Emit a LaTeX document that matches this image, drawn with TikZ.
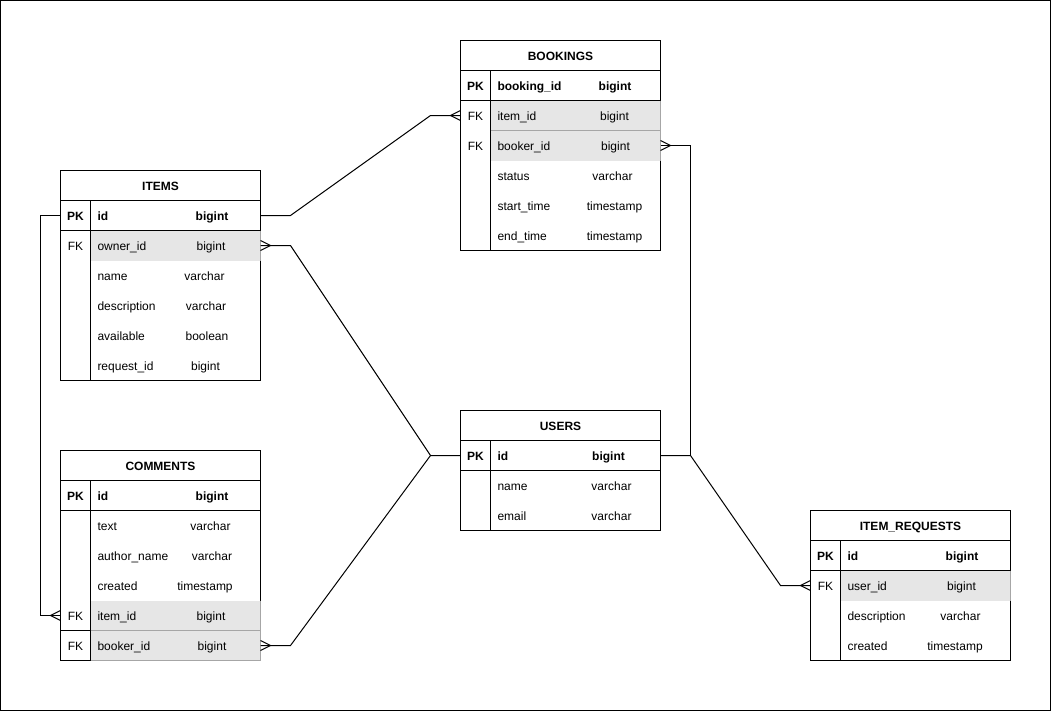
\documentclass[tikz,border=0pt]{standalone}
\usepackage{fontspec}
\setmainfont{Liberation Sans}
\usepackage{tikz}
\definecolor{fkfill}{HTML}{E6E6E6}
\definecolor{fkline}{HTML}{A6A6A6}

\begin{document}
\begin{tikzpicture}[x=0.75pt,y=-0.75pt,line width=0.75pt,
	every node/.style={outer sep=0pt, font=\fontsize{9pt}{11pt}\selectfont, text height=9.5pt, text depth=1.65pt},
	tbltitle/.style={draw, inner sep=0pt, minimum width=150pt, minimum height=22.5pt, font=\fontsize{9pt}{11pt}\selectfont\bfseries},
	keycell/.style={inner sep=0pt, minimum width=22.5pt, minimum height=22.5pt},
	fieldrow/.style={anchor=west, inner xsep=5.25pt, inner ysep=0pt, text width=117pt, align=left, minimum height=22.5pt},
	fkrow/.style={fieldrow, fill=fkfill},
	dtype/.style={inner sep=0pt},
	rel/.style={draw, line width=0.75pt}]
	
	\useasboundingbox (0,0) rectangle (1051,711);
	\draw (0.5,0.5) rectangle (1050.5,710.5);
	
	% ITEMS
	\node[tbltitle] (items) at (160.5,185.5) {ITEMS};
	\node[keycell] (it-pk) at (75.5,215.5) {\textbf{PK}};
	\node[fieldrow] (it-id) at (90.5,215.5) {\textbf{id}};
	\node[dtype] (it-id-t) at (212,215.5) {\textbf{bigint}};
	\node[keycell] (it-fk) at (75.5,245.5) {FK};
	\node[fkrow] (it-own) at (90.5,245.5) {owner\_id};
	\node[dtype] (it-own-t) at (211,245.5) {bigint};
	\node[fieldrow] (it-name) at (90.5,275.5) {name};
	\node[dtype] (it-name-t) at (204.5,275.5) {varchar};
	\node[fieldrow] (it-desc) at (90.5,305.5) {description};
	\node[dtype] (it-desc-t) at (206,305.5) {varchar};
	\node[fieldrow] (it-avail) at (90.5,335.5) {available};
	\node[dtype] (it-avail-t) at (207,335.5) {boolean};
	\node[fieldrow] (it-req) at (90.5,365.5) {request\_id};
	\node[dtype] (it-req-t) at (205.5,365.5) {bigint};
	\draw (60.5,200.5) rectangle (260.5,380.5);
	\draw (60.5,230.5) -- (260.5,230.5);
	\draw (90.5,200.5) -- (90.5,380.5);
	\draw[fkline] (260.5,230.5) -- (260.5,260.5);
	
	% BOOKINGS
	\node[tbltitle] (bookings) at (560.5,55.5) {BOOKINGS};
	\node[keycell] (bk-pk) at (475.5,85.5) {\textbf{PK}};
	\node[fieldrow] (bk-id) at (490.5,85.5) {\textbf{booking\_id}};
	\node[dtype] (bk-id-t) at (615,85.5) {\textbf{bigint}};
	\node[keycell] (bk-fk1) at (475.5,115.5) {FK};
	\node[fkrow] (bk-item) at (490.5,115.5) {item\_id};
	\node[dtype] (bk-item-t) at (614.5,115.5) {bigint};
	\node[keycell] (bk-fk2) at (475.5,145.5) {FK};
	\node[fkrow] (bk-book) at (490.5,145.5) {booker\_id};
	\node[dtype] (bk-book-t) at (615.5,145.5) {bigint};
	\node[fieldrow] (bk-status) at (490.5,175.5) {status};
	\node[dtype] (bk-status-t) at (612.5,175.5) {varchar};
	\node[fieldrow] (bk-start) at (490.5,205.5) {start\_time};
	\node[dtype] (bk-start-t) at (614.5,205.5) {timestamp};
	\node[fieldrow] (bk-end) at (490.5,235.5) {end\_time};
	\node[dtype] (bk-end-t) at (614.5,235.5) {timestamp};
	\draw (460.5,70.5) rectangle (660.5,250.5);
	\draw (460.5,100.5) -- (660.5,100.5);
	\draw (490.5,70.5) -- (490.5,250.5);
	\draw[fkline] (660.5,100.5) -- (660.5,160.5);
	\draw[fkline] (490.5,130.5) -- (660.5,130.5);
	
	% USERS
	\node[tbltitle] (users) at (560.5,425.5) {USERS};
	\node[keycell] (us-pk) at (475.5,455.5) {\textbf{PK}};
	\node[fieldrow] (us-id) at (490.5,455.5) {\textbf{id}};
	\node[dtype] (us-id-t) at (608.5,455.5) {\textbf{bigint}};
	\node[fieldrow] (us-name) at (490.5,485.5) {name};
	\node[dtype] (us-name-t) at (611.5,485.5) {varchar};
	\node[fieldrow] (us-mail) at (490.5,515.5) {email};
	\node[dtype] (us-mail-t) at (611.5,515.5) {varchar};
	\draw (460.5,440.5) rectangle (660.5,530.5);
	\draw (460.5,470.5) -- (660.5,470.5);
	\draw (490.5,440.5) -- (490.5,530.5);
	
	% COMMENTS
	\node[tbltitle] (comments) at (160.5,465.5) {COMMENTS};
	\node[keycell] (cm-pk) at (75.5,495.5) {\textbf{PK}};
	\node[fieldrow] (cm-id) at (90.5,495.5) {\textbf{id}};
	\node[dtype] (cm-id-t) at (212,495.5) {\textbf{bigint}};
	\node[fieldrow] (cm-text) at (90.5,525.5) {text};
	\node[dtype] (cm-text-t) at (210.5,525.5) {varchar};
	\node[fieldrow] (cm-auth) at (90.5,555.5) {author\_name};
	\node[dtype] (cm-auth-t) at (212,555.5) {varchar};
	\node[fieldrow] (cm-crt) at (90.5,585.5) {created};
	\node[dtype] (cm-crt-t) at (205,585.5) {timestamp};
	\node[keycell] (cm-fk1) at (75.5,615.5) {FK};
	\node[fkrow] (cm-item) at (90.5,615.5) {item\_id};
	\node[dtype] (cm-item-t) at (211,615.5) {bigint};
	\node[keycell] (cm-fk2) at (75.5,645.5) {FK};
	\node[fkrow] (cm-book) at (90.5,645.5) {booker\_id};
	\node[dtype] (cm-book-t) at (212,645.5) {bigint};
	\draw (60.5,480.5) rectangle (260.5,660.5);
	\draw (60.5,510.5) -- (260.5,510.5);
	\draw (90.5,480.5) -- (90.5,660.5);
	\draw (60.5,630.5) -- (90.5,630.5);
	\draw[fkline] (90.5,630.5) -- (260.5,630.5);
	\draw[fkline] (260.5,600.5) -- (260.5,660.5) -- (90.5,660.5);
	
	% ITEM_REQUESTS
	\node[tbltitle] (requests) at (910.5,525.5) {ITEM\_REQUESTS};
	\node[keycell] (ir-pk) at (825.5,555.5) {\textbf{PK}};
	\node[fieldrow] (ir-id) at (840.5,555.5) {\textbf{id}};
	\node[dtype] (ir-id-t) at (962,555.5) {\textbf{bigint}};
	\node[keycell] (ir-fk) at (825.5,585.5) {FK};
	\node[fkrow] (ir-user) at (840.5,585.5) {user\_id};
	\node[dtype] (ir-user-t) at (961.5,585.5) {bigint};
	\node[fieldrow] (ir-desc) at (840.5,615.5) {description};
	\node[dtype] (ir-desc-t) at (960.5,615.5) {varchar};
	\node[fieldrow] (ir-crt) at (840.5,645.5) {created};
	\node[dtype] (ir-crt-t) at (955,645.5) {timestamp};
	\draw (810.5,540.5) rectangle (1010.5,660.5);
	\draw (810.5,570.5) -- (1010.5,570.5);
	\draw (840.5,540.5) -- (840.5,660.5);
	\draw[fkline] (1010.5,570.5) -- (1010.5,600.5);
	
	% relations
	\path[rel] (it-id.east) -- ++(30,0) -- ([xshift=-22.5pt]bk-fk1.west) -- (bk-fk1.west);
	\path[rel] (it-own.east) -- ++(30,0) -- ([xshift=-22.5pt]us-pk.west) -- (us-pk.west);
	\path[rel] (cm-book.east) -- ++(30,0) -- ([xshift=-22.5pt]us-pk.west);
	\path[rel] (bk-book.east) -- ++(30,0) |- (us-id.east);
	\path[rel] (us-id.east) -- ++(30,0) -- ([xshift=-22.5pt]ir-fk.west) -- (ir-fk.west);
	\path[rel] (it-pk.west) -- ++(-20,0) |- (cm-fk1.west);
	
	% crow's feet
	\path[rel] ([xshift=-7.5pt]bk-fk1.west) -- ([yshift=3.75pt]bk-fk1.west) ([xshift=-7.5pt]bk-fk1.west) -- ([yshift=-3.75pt]bk-fk1.west);
	\path[rel] ([xshift=7.5pt]bk-book.east) -- ([yshift=3.75pt]bk-book.east) ([xshift=7.5pt]bk-book.east) -- ([yshift=-3.75pt]bk-book.east);
	\path[rel] ([xshift=7.5pt]it-own.east) -- ([yshift=3.75pt]it-own.east) ([xshift=7.5pt]it-own.east) -- ([yshift=-3.75pt]it-own.east);
	\path[rel] ([xshift=7.5pt]cm-book.east) -- ([yshift=3.75pt]cm-book.east) ([xshift=7.5pt]cm-book.east) -- ([yshift=-3.75pt]cm-book.east);
	\path[rel] ([xshift=-7.5pt]cm-fk1.west) -- ([yshift=3.75pt]cm-fk1.west) ([xshift=-7.5pt]cm-fk1.west) -- ([yshift=-3.75pt]cm-fk1.west);
	\path[rel] ([xshift=-7.5pt]ir-fk.west) -- ([yshift=3.75pt]ir-fk.west) ([xshift=-7.5pt]ir-fk.west) -- ([yshift=-3.75pt]ir-fk.west);

\end{tikzpicture}
\end{document}
